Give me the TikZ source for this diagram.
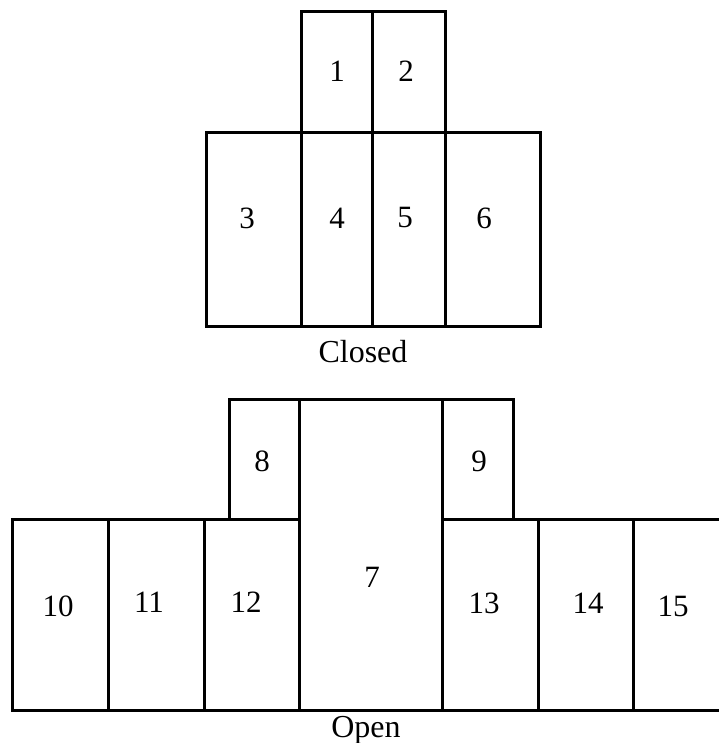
\documentclass[tikz,border=0pt]{standalone}
\usepackage{fontspec}
\setmainfont{Liberation Serif}
\begin{document}
\begin{tikzpicture}[x=1pt,y=-1pt,
  wall/.style={line width=3pt,line join=miter,line cap=rect},
  num/.style={font=\fontsize{31}{31}\selectfont,inner sep=0pt},
  caption/.style={font=\fontsize{32}{32}\selectfont,inner sep=0pt,anchor=base}]
\useasboundingbox[fill=white] (0,0) rectangle (718,743);
% Closed
\draw[wall] (301,12) rectangle (445,133);
\draw[wall] (372,12) -- (372,326);
\draw[wall] (206,133) rectangle (540,326);
\draw[wall] (301,133) -- (301,326);
\draw[wall] (445,133) -- (445,326);
\node[num] (n1) at (337,71) {1};
\node[num] (n2) at (406,71) {2};
\node[num] (n3) at (247,218) {3};
\node[num] (n4) at (337,218) {4};
\node[num] (n5) at (405,218) {5};
\node[num] (n6) at (484,218) {6};
\node[caption] (closed) at (363,362) {Closed};
% Open
\draw[wall] (229,519) -- (229,399) -- (513,399) -- (513,519);
\draw[wall] (299,399) -- (299,710);
\draw[wall] (442,399) -- (442,710);
\draw[wall] (299,519) -- (12,519) -- (12,710) -- (718,710);
\draw[wall] (442,519) -- (718,519);
\draw[wall] (108,519) -- (108,710);
\draw[wall] (204,519) -- (204,710);
\draw[wall] (538,519) -- (538,710);
\draw[wall] (633,519) -- (633,710);
\node[num] (n7) at (372,577) {7};
\node[num] (n8) at (262,461) {8};
\node[num] (n9) at (479,461) {9};
\node[num] (n10) at (58,606) {10};
\node[num] (n11) at (149,602) {11};
\node[num] (n12) at (246,602) {12};
\node[num] (n13) at (484,603) {13};
\node[num] (n14) at (588,603) {14};
\node[num] (n15) at (673,606) {15};
\node[caption] (open) at (366,737) {Open};
\end{tikzpicture}
\end{document}
